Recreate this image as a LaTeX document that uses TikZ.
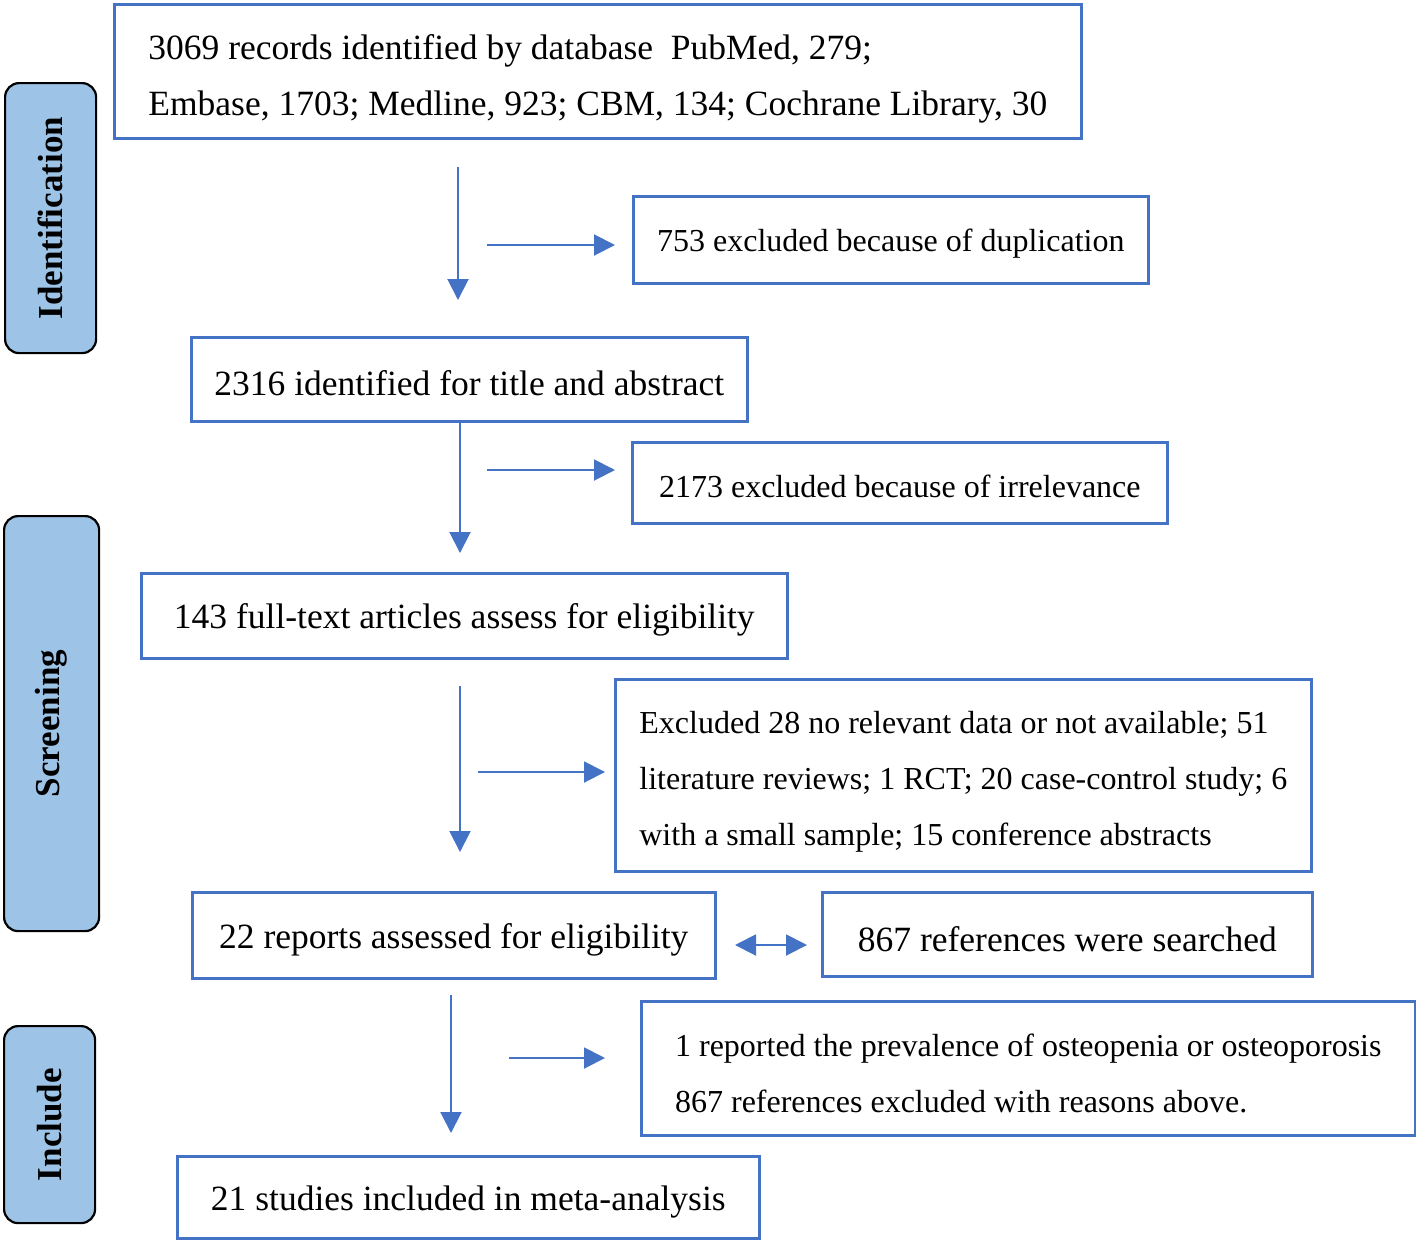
\documentclass[tikz,border=0pt]{standalone}
\usepackage{fontspec}
\setmainfont{Liberation Serif}
\usepackage{tikz}
\usetikzlibrary{positioning, arrows.meta}
\definecolor{boxblue}{HTML}{4472C4}
\definecolor{stageblue}{HTML}{9DC3E6}
\newcommand{\topgap}[1]{\rule{0pt}{#1}}
\tikzstyle{record} = [rectangle, anchor=north west, draw=boxblue, line width=2.6pt, inner xsep=6pt, align=left, font=\fontsize{35.5}{56}\selectfont, execute at begin node={\topgap{0.95em}}]
\tikzstyle{note} = [record, font=\fontsize{32}{56}\selectfont]
\tikzstyle{stage} = [rectangle, rounded corners=14pt, anchor=north east, rotate=90, draw=black, line width=2.2pt, fill=stageblue, font=\fontsize{35}{40}\selectfont\bfseries]
\tikzstyle{arrow} = [draw=boxblue, line width=2pt, -{Triangle[length=21pt,width=21pt]}]
\tikzstyle{twoway} = [draw=boxblue, line width=2pt, {Triangle[length=21pt,width=21pt]}-{Triangle[length=21pt,width=21pt]}]

\begin{document}
\begin{tikzpicture}[x=1pt, y=-1pt]
	\useasboundingbox (0,0) rectangle (1416,1240);
	
	% stages on the left
	\node (ident) [stage, minimum width=270pt, minimum height=91pt] at (4,82) {Identification};
	\node (screen) [stage, minimum width=415pt, minimum height=95pt] at (3,515) {Screening};
	\node (incl) [stage, minimum width=197pt, minimum height=91pt] at (3,1025) {Include};
	
	% records boxes
	\node (records) [record, minimum width=967pt, minimum height=134pt] at (113,3) {\topgap{1.13em}3069 records identified by database\ \ PubMed, 279;\\Embase, 1703; Medline, 923; CBM, 134; Cochrane Library, 30};
	\node (dup) [note, minimum width=515pt, minimum height=87pt] at (632,195) {753 excluded because of duplication};
	\node (title) [record, minimum width=556pt, minimum height=84pt] at (190,336) {2316 identified for title and abstract};
	\node (irrel) [note, minimum width=535pt, minimum height=81pt] at (631,441) {2173 excluded because of irrelevance};
	\node (fulltext) [record, minimum width=646pt, minimum height=85pt] at (140,572) {143 full-text articles assess for eligibility};
	\node (excl) [note, minimum width=696pt, minimum height=192pt] at (614,678) {\topgap{1.12em}Excluded 28 no relevant data or not available; 51\\literature reviews; 1 RCT; 20 case-control study; 6\\with a small sample; 15 conference abstracts};
	\node (reports) [record, minimum width=523pt, minimum height=86pt] at (191,891) {22 reports assessed for eligibility};
	\node (refs) [record, minimum width=490pt, minimum height=84pt] at (821,891) {867 references were searched};
	\node (prev) [note, minimum width=774pt, minimum height=134pt] at (640,1000) {\topgap{1.02em}1 reported the prevalence of osteopenia or osteoporosis\\867 references excluded with reasons above.};
	\node (studies) [record, minimum width=582pt, minimum height=82pt] at (176,1155) {21 studies included in meta-analysis};
	
	% arrow ends
	\coordinate (d1a) at (458,167);
	\coordinate (d1b) at (458,300);
	\coordinate (r1a) at (487,245);
	\coordinate (r1b) at (615,245);
	\coordinate (d2a) at (460,421);
	\coordinate (d2b) at (460,553);
	\coordinate (r2a) at (487,470);
	\coordinate (r2b) at (615,470);
	\coordinate (d3a) at (460,686);
	\coordinate (d3b) at (460,852);
	\coordinate (r3a) at (478,772);
	\coordinate (r3b) at (605,772);
	\coordinate (ba) at (735,945);
	\coordinate (bb) at (807,945);
	\coordinate (d4a) at (451,995);
	\coordinate (d4b) at (451,1133);
	\coordinate (r4a) at (509,1058);
	\coordinate (r4b) at (605,1058);
	
	\draw [arrow] (d1a) -- (d1b);
	\draw [arrow] (r1a) -- (r1b);
	\draw [arrow] (d2a) -- (d2b);
	\draw [arrow] (r2a) -- (r2b);
	\draw [arrow] (d3a) -- (d3b);
	\draw [arrow] (r3a) -- (r3b);
	\draw [twoway] (ba) -- (bb);
	\draw [arrow] (d4a) -- (d4b);
	\draw [arrow] (r4a) -- (r4b);
	
\end{tikzpicture}
\end{document}
